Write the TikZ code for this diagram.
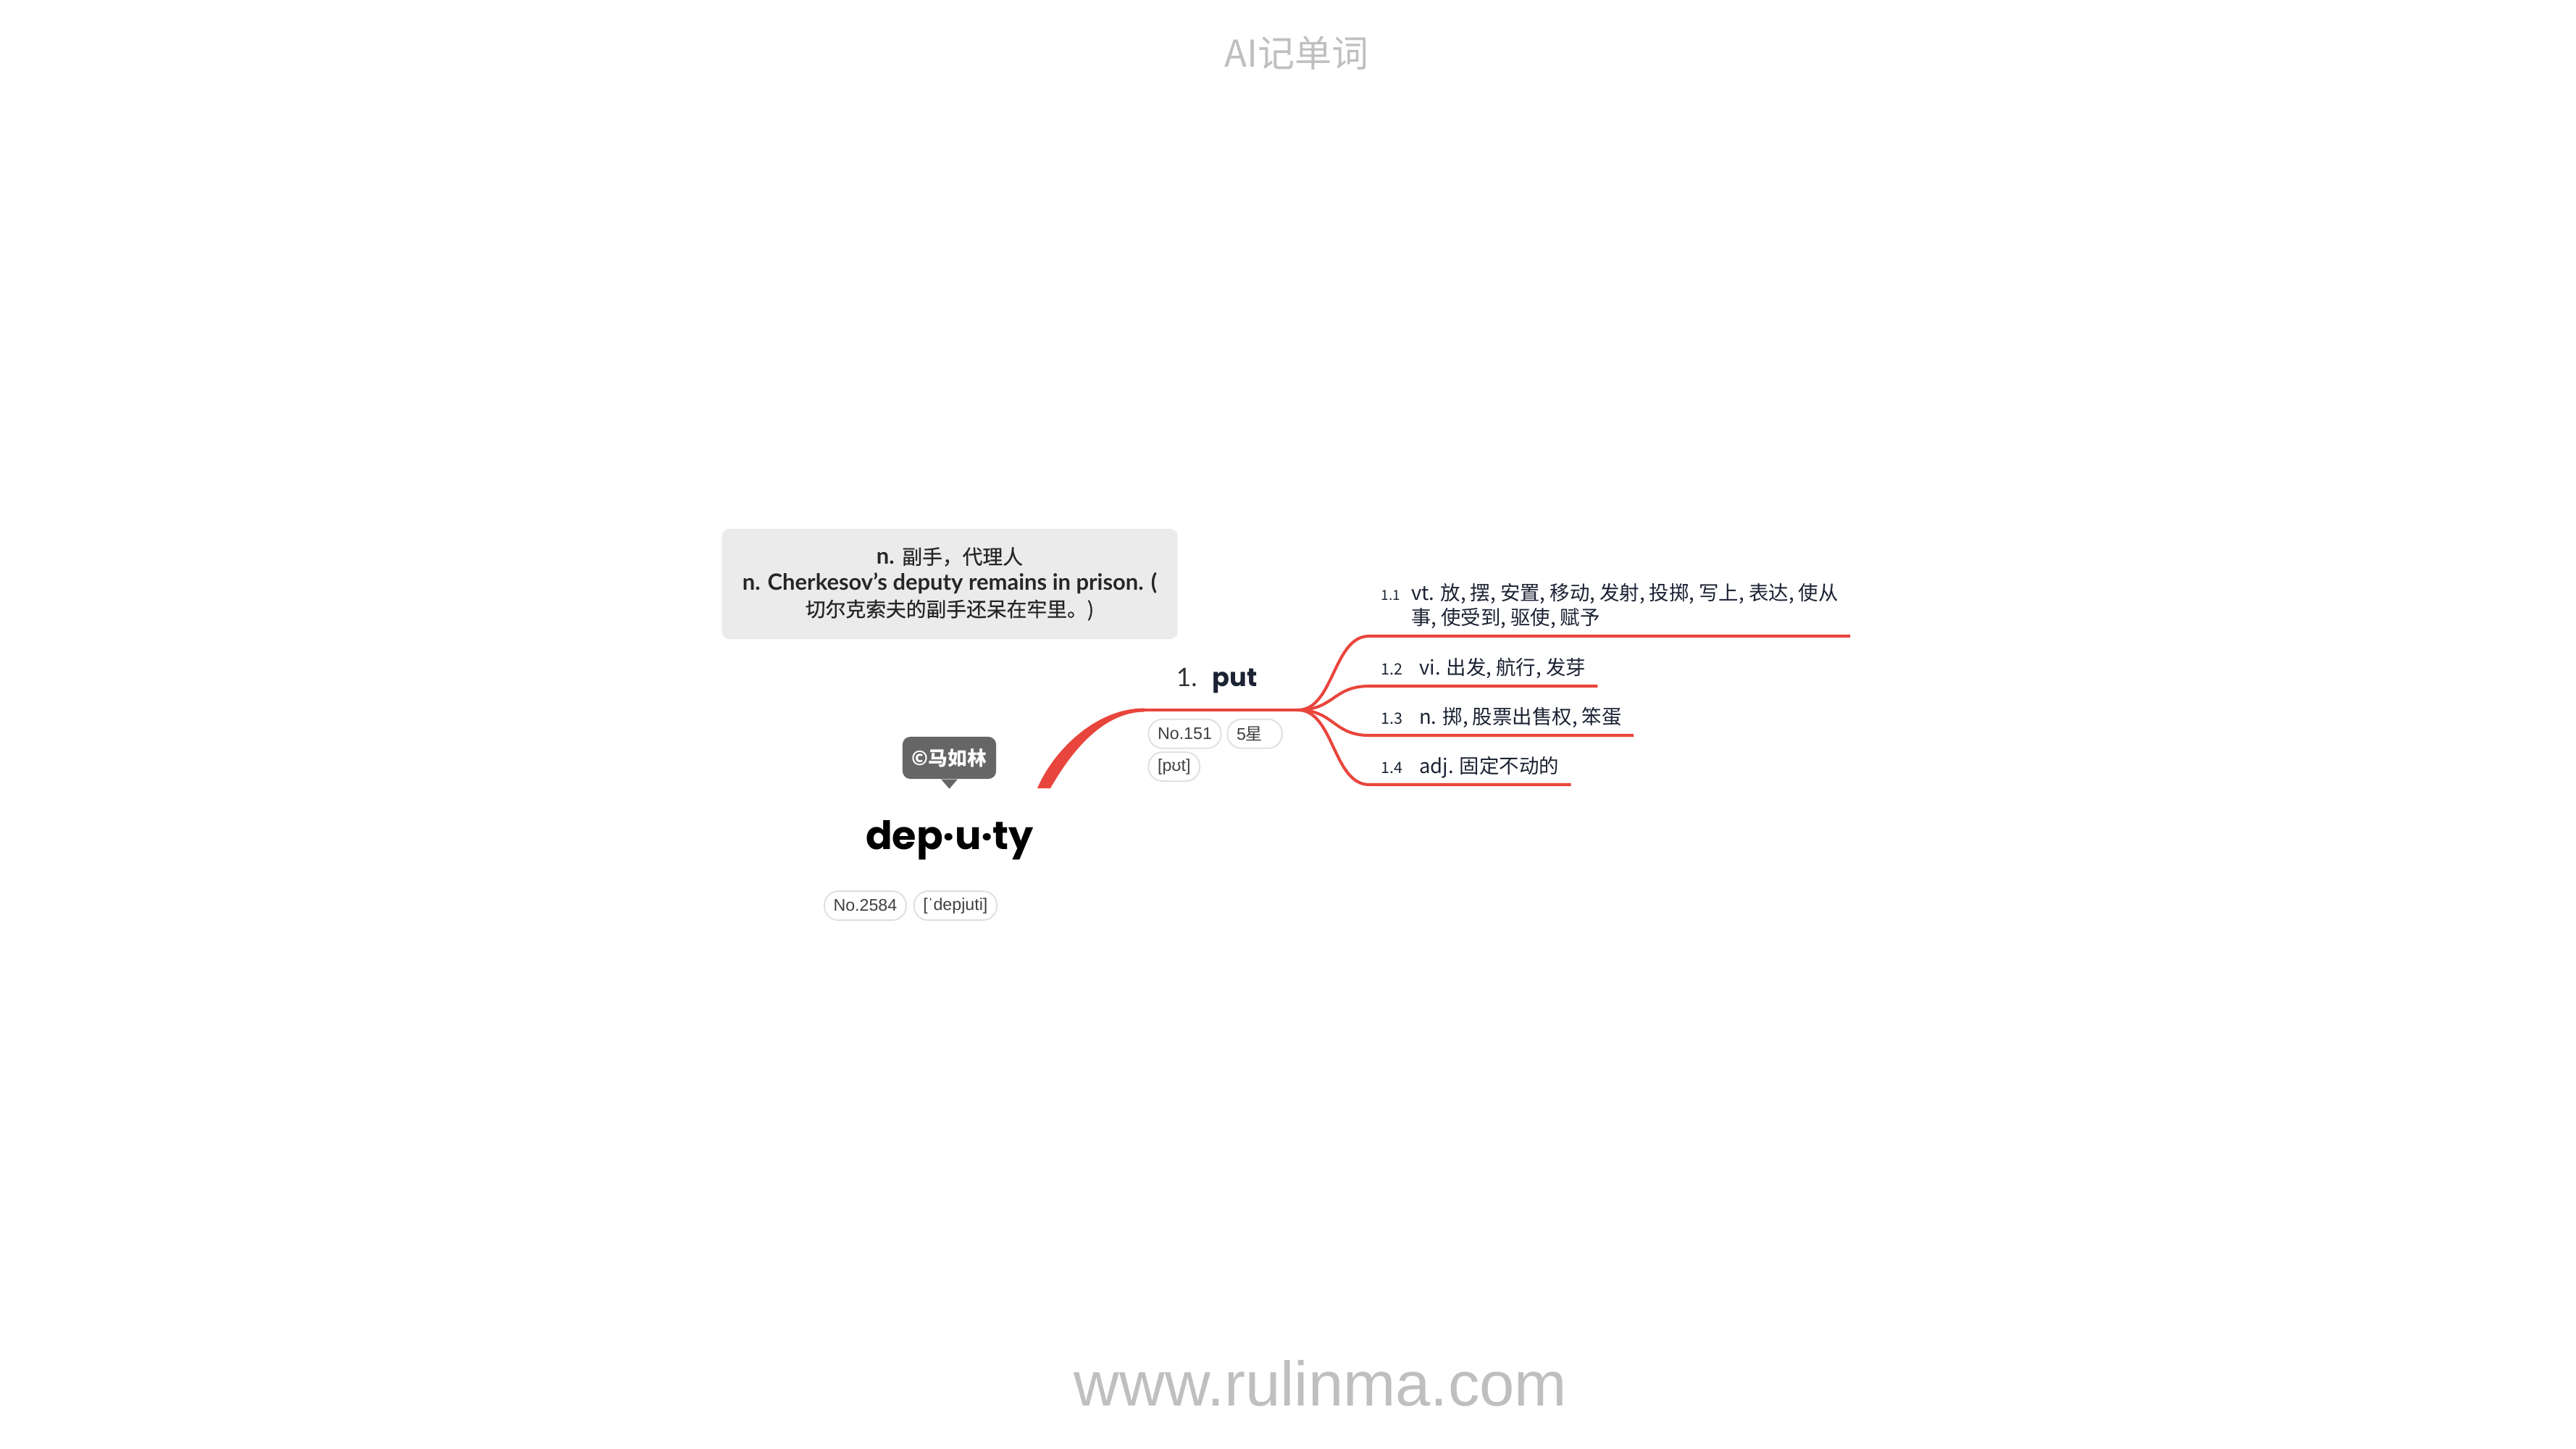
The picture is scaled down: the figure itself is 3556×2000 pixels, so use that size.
\documentclass[tikz,border=0pt]{standalone}
\usepackage{fontspec}
\setmainfont{Lato}
\newfontfamily\cjk{Noto Sans CJK SC}
\newfontfamily\cjkmed[FakeBold=0.6]{Noto Sans CJK SC}
\newfontfamily\geo{Poppins}
\newfontfamily\tagfont{Liberation Sans}
\usetikzlibrary{positioning,calc}
\definecolor{mapred}{HTML}{E8453C}
\definecolor{notegray}{HTML}{EBEBEB}
\definecolor{badgegray}{HTML}{666666}
\definecolor{tagline}{HTML}{DDDDDD}
\definecolor{tagtext}{HTML}{404040}
\definecolor{inkblue}{HTML}{1B2233}
\definecolor{marklight}{HTML}{BFBFBF}
\newcommand\senseno[1]{{\fontsize{6.1}{7}\selectfont #1}\hspace{6.5pt}}
\newcommand\zh[1]{{\cjkmed\fontsize{7.9}{10}\selectfont #1}}

\begin{document}
\begin{tikzpicture}[x=0.01cm,y=-0.01cm,
    tag/.style={draw=tagline,line width=0.5pt,rounded corners=5.5pt,minimum height=0.4cm,
      inner xsep=3.6pt,inner ysep=0pt,text=tagtext,font=\tagfont\fontsize{6.6}{8}\selectfont},
    sense/.style={anchor=south west,inner xsep=4.5pt,inner ysep=0pt,text depth=4.3pt,
      text=inkblue,font=\cjk\fontsize{7.8}{9.7}\selectfont},
    branch/.style={draw=mapred,line width=1.15pt},
    note/.style={fill=notegray,rounded corners=3pt,minimum width=6.29cm,minimum height=1.52cm,
      align=center,text=black!85,font=\fontsize{8.8}{10.3}\selectfont},
    badge/.style={fill=badgegray,rounded corners=3pt,minimum width=1.29cm,minimum height=0.58cm,
      inner sep=0pt,text=white,font=\cjk\bfseries\fontsize{7.6}{9}\selectfont}]
  \path[fill=white,use as bounding box] (0,0) rectangle (3556,2000);

  \node[text=marklight,font=\cjk\fontsize{14.5}{16}\selectfont] (title) at (1790,73) {AI记单词};
  \node[anchor=base,text=marklight,font=\tagfont\fontsize{24.7}{28}\selectfont] (site) at (1823,1940) {www.rulinma.com};

  \node[note] (gloss) at (1311,806) {\textbf{n.} \zh{副手，代理人}\\
    \textbf{n. Cherkesov’s deputy remains in prison. (}\\
    \zh{切尔克索夫的副手还呆在牢里。)}};

  \node[badge] (author) at (1310.5,1046) {©马如林};
  \fill[badgegray] ([xshift=-3.2pt]author.south) -- ([yshift=-3.7pt]author.south) -- ([xshift=3.2pt]author.south) -- cycle;

  \node[anchor=base,font=\geo\bfseries\fontsize{15.4}{18}\selectfont] (root) at (1311,1172) {dep·u·ty};
  \node[tag,anchor=west] (no2584) at (1137,1250) {No.2584};
  \node[tag,right=0.09cm of no2584] (iparoot) {[ˈdepjuti]};

  \node[anchor=south west,minimum width=2.1cm,inner sep=0pt,text depth=9.1pt,
    font=\geo\fontsize{10}{12}\selectfont] (put) at (1580,980)
    {{\normalfont\color{black!80}1.}\hspace{6pt}\textbf{\color{inkblue}put}\hspace*{3.4pt}};
  \node[tag,anchor=north west] (no151) at ([xshift=1.3pt,yshift=-3.4pt]put.south west) {No.151};
  \node[tag,right=0.07cm of no151] (stars) {5{\cjk 星}\hspace*{4pt}};
  \node[tag,anchor=north west] (ipaput) at ([yshift=-1pt]no151.south west) {[pʊt]};

  \coordinate (trunk) at (1441,1088);
  \fill[mapred] ($(trunk)+(-9,0)$) .. controls (1452,1040) and (1510,977.5) .. ([yshift=0.7pt]put.south west)
    -- ([yshift=-0.7pt]put.south west) .. controls (1518,983) and (1474,1046) .. ($(trunk)+(9,0)$) -- cycle;
  \draw[mapred,line width=1.4pt] (put.south west) -- (put.south east);

  \node[sense,text depth=14pt] (s1) at (1890,878)
    {{\fontsize{5.4}{6}\selectfont 1.1}\hspace{4.3pt}\begin{tabular}[t]{@{}l@{}}vt. 放, 摆, 安置, 移动, 发射, 投掷, 写上, 表达, 使从\\事, 使受到, 驱使, 赋予\end{tabular}};
  \node[sense] (s2) at (1890,947) {\senseno{1.2}vi. 出发, 航行, 发芽};
  \node[sense] (s3) at (1890,1015) {\senseno{1.3}n. 掷, 股票出售权, 笨蛋};
  \node[sense] (s4) at (1890,1083) {\senseno{1.4}adj. 固定不动的};

  \foreach \s in {s1,s2,s3,s4}
    \draw[branch] (put.south east) .. controls +(50,0) and +(-50,0) .. (\s.south west) -- (\s.south east);
\end{tikzpicture}
\end{document}
